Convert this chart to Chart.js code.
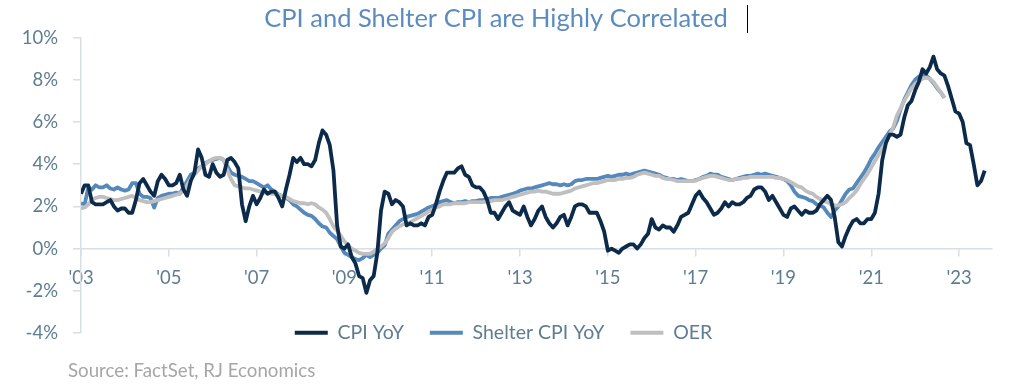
<!DOCTYPE html>
<html lang="en">
<head>
  <meta charset="UTF-8">
  <title>CPI and Shelter CPI</title>
  <script src="https://cdn.jsdelivr.net/npm/chart.js"></script>
  <style>
    body { margin: 0; background: #fff; }
    .chart-box { width: 1014px; height: 392px; position: relative; }
  </style>
</head>
<body>
  <div class="chart-box">
    <canvas id="cpiChart"></canvas>
  </div>
  <script>
    // monthly YoY % , first value = Jan 2003
    var startYear = 2003;

    var cpiYoY = [
      2.6, 3.0, 3.0, 2.2, 2.1, 2.1, 2.1, 2.2, 2.3, 2.0, 1.8, 1.9,
      1.9, 1.7, 1.7, 2.3, 3.1, 3.3, 3.0, 2.7, 2.5, 3.2, 3.5, 3.3,
      3.0, 3.0, 3.1, 3.5, 2.8, 2.5, 3.2, 3.6, 4.7, 4.3, 3.5, 3.4,
      4.0, 3.6, 3.4, 3.5, 4.2, 4.3, 4.1, 3.8, 2.1, 1.3, 2.0, 2.5,
      2.1, 2.4, 2.8, 2.6, 2.7, 2.7, 2.4, 2.0, 2.8, 3.5, 4.3, 4.1,
      4.3, 4.0, 4.0, 3.9, 4.2, 5.0, 5.6, 5.4, 4.9, 3.7, 1.1, 0.1,
      0.0, 0.2, -0.4, -0.7, -1.3, -1.4, -2.1, -1.5, -1.3, -0.2, 1.8, 2.7,
      2.6, 2.1, 2.3, 2.2, 2.0, 1.1, 1.2, 1.1, 1.1, 1.2, 1.1, 1.5,
      1.6, 2.1, 2.7, 3.2, 3.6, 3.6, 3.6, 3.8, 3.9, 3.5, 3.4, 3.0,
      2.9, 2.9, 2.7, 2.3, 1.7, 1.7, 1.4, 1.7, 2.0, 2.2, 1.8, 1.7,
      1.6, 2.0, 1.5, 1.1, 1.4, 1.8, 2.0, 1.5, 1.2, 1.0, 1.2, 1.5,
      1.6, 1.1, 1.5, 2.0, 2.1, 2.1, 2.0, 1.7, 1.7, 1.7, 1.3, 0.8,
      -0.1, 0.0, -0.1, -0.2, 0.0, 0.1, 0.2, 0.2, 0.0, 0.2, 0.5, 0.7,
      1.4, 1.0, 0.9, 1.1, 1.0, 1.0, 0.8, 1.1, 1.5, 1.6, 1.7, 2.1,
      2.5, 2.7, 2.4, 2.2, 1.9, 1.6, 1.7, 1.9, 2.2, 2.0, 2.2, 2.1,
      2.1, 2.2, 2.4, 2.5, 2.8, 2.9, 2.9, 2.7, 2.3, 2.5, 2.2, 1.9,
      1.6, 1.5, 1.9, 2.0, 1.8, 1.6, 1.8, 1.7, 1.7, 1.8, 2.1, 2.3,
      2.5, 2.3, 1.5, 0.3, 0.1, 0.6, 1.0, 1.3, 1.4, 1.2, 1.2, 1.4,
      1.4, 1.7, 2.6, 4.2, 5.0, 5.4, 5.4, 5.3, 5.4, 6.2, 6.8, 7.0,
      7.5, 7.9, 8.5, 8.3, 8.6, 9.1, 8.5, 8.3, 8.2, 7.7, 7.1, 6.5,
      6.4, 6.0, 5.0, 4.9, 4.0, 3.0, 3.2, 3.7
    ];

    var shelterYoY = [
      2.15, 2.1, 2.9, 2.8, 3.0, 2.9, 2.9, 3.0, 2.85, 2.8, 2.9, 2.8,
      2.75, 2.8, 3.1, 3.1, 2.6, 2.45, 2.45, 2.4, 1.95, 2.4, 2.5, 2.55,
      2.6, 2.6, 2.65, 2.6, 2.9, 3.2, 3.5, 3.6, 3.8, 3.9, 4.05, 4.15,
      4.2, 4.25, 4.3, 4.2, 3.9, 3.6, 3.5, 3.45, 3.4, 3.3, 3.2, 3.2,
      3.1, 3.0, 2.9, 3.0, 2.8, 2.7, 2.55, 2.5, 2.4, 2.3, 2.1, 2.0,
      1.85, 1.7, 1.6, 1.55, 1.4, 1.2, 1.05, 1.0, 0.75, 0.6, 0.45, 0.1,
      -0.2, -0.3, -0.4, -0.5, -0.55, -0.45, -0.3, -0.4, -0.3, -0.2, 0.0, 0.15,
      0.7, 0.9, 1.1, 1.3, 1.4, 1.5, 1.55, 1.6, 1.65, 1.75, 1.85, 1.95,
      2.0, 2.1, 2.2, 2.25, 2.3, 2.2, 2.15, 2.2, 2.2, 2.25, 2.2, 2.25,
      2.25, 2.3, 2.3, 2.35, 2.4, 2.4, 2.4, 2.45, 2.5, 2.55, 2.6, 2.65,
      2.75, 2.8, 2.85, 2.85, 2.9, 2.95, 3.0, 3.05, 3.1, 3.05, 3.05, 3.0,
      3.05, 3.0, 3.05, 3.2, 3.25, 3.25, 3.3, 3.3, 3.3, 3.3, 3.35, 3.4,
      3.45, 3.4, 3.45, 3.5, 3.5, 3.55, 3.5, 3.55, 3.6, 3.65, 3.7, 3.65,
      3.6, 3.55, 3.5, 3.4, 3.35, 3.3, 3.3, 3.25, 3.3, 3.25, 3.2, 3.2,
      3.25, 3.3, 3.4, 3.45, 3.55, 3.5, 3.5, 3.4, 3.35, 3.3, 3.25, 3.3,
      3.35, 3.4, 3.45, 3.45, 3.5, 3.55, 3.5, 3.55, 3.5, 3.45, 3.4, 3.35,
      3.3, 3.2, 3.0, 2.7, 2.5, 2.45, 2.4, 2.3, 2.25, 2.1, 2.05, 1.95,
      1.7, 1.5, 1.8, 2.0, 2.3, 2.6, 2.8, 2.85, 3.1, 3.35, 3.6, 3.9,
      4.25, 4.5, 4.8, 5.05, 5.3, 5.55, 5.7, 6.05, 6.6, 7.05, 7.4, 7.75,
      8.0, 8.15, 8.25, 8.2, 8.05, 7.85, 7.6, 7.4, 7.15
    ];

    var oerYoY = [
      1.9, 1.95, 2.1, 2.3, 2.4, 2.45, 2.45, 2.4, 2.35, 2.3, 2.3, 2.35,
      2.4, 2.45, 2.5, 2.4, 2.3, 2.25, 2.2, 2.2, 2.25, 2.3, 2.35, 2.4,
      2.45, 2.5, 2.55, 2.6, 2.75, 3.0, 3.3, 3.5, 3.7, 3.9, 4.0, 4.15,
      4.25, 4.3, 4.3, 4.2, 3.7, 3.3, 3.0, 2.95, 2.9, 2.85, 2.85, 2.8,
      2.75, 2.7, 2.65, 2.65, 2.6, 2.6, 2.55, 2.5, 2.45, 2.35, 2.25, 2.2,
      2.15, 2.15, 2.1, 2.15, 2.1, 1.95, 1.85, 1.7, 1.4, 1.05, 0.85, 0.6,
      0.35, 0.15, 0.0, -0.1, -0.2, -0.25, -0.25, -0.25, -0.15, 0.0, 0.1, 0.25,
      0.5, 0.8, 0.95, 1.05, 1.15, 1.2, 1.25, 1.35, 1.45, 1.55, 1.65, 1.75,
      1.85, 1.95, 2.0, 2.1, 2.1, 2.1, 2.15, 2.15, 2.15, 2.15, 2.2, 2.2,
      2.2, 2.2, 2.2, 2.25, 2.25, 2.3, 2.3, 2.3, 2.35, 2.4, 2.45, 2.5,
      2.55, 2.6, 2.65, 2.7, 2.7, 2.75, 2.7, 2.7, 2.65, 2.6, 2.6, 2.6,
      2.65, 2.7, 2.75, 2.85, 2.9, 2.95, 3.0, 3.05, 3.1, 3.1, 3.15, 3.2,
      3.25, 3.25, 3.25, 3.3, 3.3, 3.35, 3.35, 3.4, 3.5, 3.55, 3.6, 3.55,
      3.5, 3.45, 3.45, 3.35, 3.3, 3.3, 3.25, 3.2, 3.2, 3.2, 3.2, 3.2,
      3.22, 3.3, 3.35, 3.4, 3.45, 3.45, 3.4, 3.35, 3.3, 3.25, 3.25, 3.3,
      3.3, 3.35, 3.35, 3.4, 3.4, 3.4, 3.4, 3.4, 3.4, 3.4, 3.35, 3.35,
      3.3, 3.25, 3.15, 3.05, 2.95, 2.9, 2.75, 2.65, 2.6, 2.45, 2.35, 2.25,
      2.2, 2.1, 2.05, 2.05, 2.1, 2.2, 2.4, 2.55, 2.75, 3.05, 3.3, 3.55,
      3.85, 4.15, 4.45, 4.75, 5.05, 5.4, 5.75, 6.3, 6.65, 7.0, 7.3, 7.6,
      7.8, 7.95, 8.05, 8.1, 8.05, 7.9, 7.65, 7.4, 7.15
    ];

    var yearTicks = [2003, 2005, 2007, 2009, 2011, 2013, 2015, 2017, 2019, 2021, 2023];
    var seriesNames = ['CPI YoY', 'Shelter CPI YoY', 'OER'];

    var axisColor = '#d9dee4';
    var labelColor = '#5e7d91';

    function toPoints(values) {
      return values.map(function (v, i) {
        return { x: startYear + i / 12, y: v };
      });
    }

    Chart.defaults.font.family = 'Lato';

    // source note + the little cursor mark next to the title
    var extras = {
      id: 'extras',
      afterLayout: function (chart) {
        // legend sits in the blank band at the bottom of the plot
        var lg = chart.legend;
        var dy = 297 - lg.top;
        lg.top += dy;
        lg.bottom += dy;
        lg.left += 7.5;
        lg.right += 7.5;
      },
      afterDraw: function (chart) {
        var ctx = chart.ctx;
        ctx.save();
        ctx.font = '18.7px Lato';
        ctx.fillStyle = '#a6a6a6';
        ctx.textBaseline = 'middle';
        ctx.fillText('Source: FactSet, RJ Economics', 68, 371);
        ctx.fillStyle = '#000';
        ctx.fillRect(747, 5, 1, 28);
        ctx.restore();
      }
    };

    var ctx = document.getElementById('cpiChart').getContext('2d');
    var cpiChart = new Chart(ctx, {
      type: 'line',
      data: {
        datasets: [{
          label: seriesNames[0],
          data: toPoints(cpiYoY),
          borderColor: '#0c2a4a',
          backgroundColor: '#0c2a4a',
          order: 0
        }, {
          label: seriesNames[1],
          data: toPoints(shelterYoY),
          borderColor: '#5588bb',
          backgroundColor: '#5588bb',
          order: 2
        }, {
          label: seriesNames[2],
          data: toPoints(oerYoY),
          borderColor: '#bfbfbf',
          backgroundColor: '#bfbfbf',
          order: 1
        }]
      },
      options: {
        responsive: true,
        maintainAspectRatio: false,
        animation: false,
        layout: { padding: { left: 0, right: 22, top: 0, bottom: 3.5 } },
        elements: {
          point: { radius: 0, pointStyle: 'line', borderWidth: 4 },
          line: { tension: 0, borderWidth: 3.8, borderJoinStyle: 'round' }
        },
        plugins: {
          title: {
            display: true,
            text: 'CPI and Shelter CPI are Highly Correlated',
            color: '#5b8cbf',
            font: { size: 25.5, weight: 'normal' },
            padding: { top: 3, bottom: 4 }
          },
          legend: {
            position: 'bottom',
            labels: {
              usePointStyle: true,
              pointStyleWidth: 33,
              padding: 26,
              color: labelColor,
              font: { size: 19.5 },
              sort: function (a, b) { return a.datasetIndex - b.datasetIndex; }
            }
          },
          tooltip: { enabled: false }
        },
        scales: {
          x: {
            type: 'linear',
            min: 2003,
            max: 2023.75,
            position: { y: 0 },
            afterBuildTicks: function (axis) {
              axis.ticks = yearTicks.map(function (v) { return { value: v }; });
            },
            afterFit: function (axis) { axis.height = 0; },
            grid: { drawOnChartArea: false, tickLength: 7, color: axisColor, lineWidth: 1.5 },
            border: { color: axisColor, width: 1.5 },
            ticks: {
              padding: 11,
              color: labelColor,
              font: { size: 18.5 },
              maxRotation: 0,
              autoSkip: false,
              callback: function (v) { return "'" + String(v).slice(2); }
            }
          },
          y: {
            min: -4,
            max: 10,
            afterFit: function (axis) { axis.width = 81; },
            grid: { drawOnChartArea: false, tickLength: 8, color: axisColor, lineWidth: 1.5 },
            border: { color: axisColor, width: 1.5 },
            ticks: {
              stepSize: 2,
              padding: 15,
              color: labelColor,
              font: { size: 18.5 },
              callback: function (v) { return v + '%'; }
            }
          }
        }
      },
      plugins: [extras]
    });
  </script>
</body>
</html>
